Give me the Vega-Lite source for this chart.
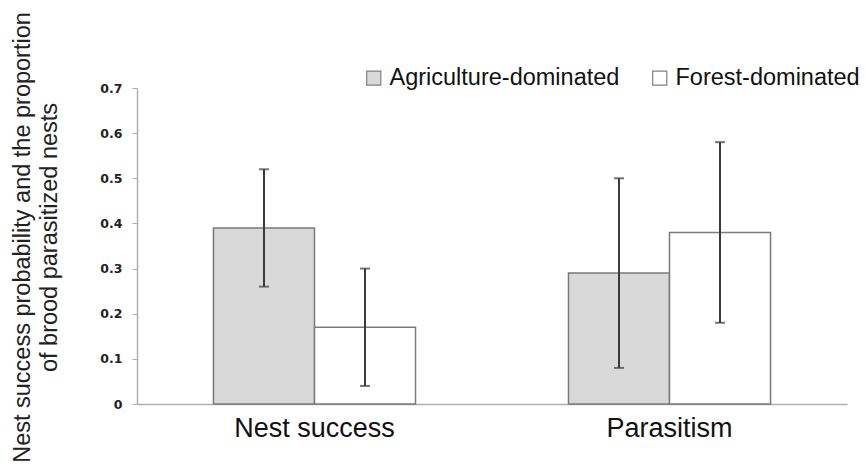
{
  "$schema": "https://vega.github.io/schema/vega-lite/v6.json",
  "autosize": {"type": "none"},
  "padding": {"left": 137, "top": 88, "right": 18, "bottom": 65},
  "width": 710,
  "height": 316,
  "background": "white",
  "config": {"view": {"stroke": null}, "font": "Liberation Sans"},
  "data": {"values": [
    {"measure": "Nest success", "landscape": "Agriculture-dominated", "value": 0.39, "lo": 0.26, "hi": 0.52},
    {"measure": "Nest success", "landscape": "Forest-dominated", "value": 0.17, "lo": 0.04, "hi": 0.30},
    {"measure": "Parasitism", "landscape": "Agriculture-dominated", "value": 0.29, "lo": 0.08, "hi": 0.50},
    {"measure": "Parasitism", "landscape": "Forest-dominated", "value": 0.38, "lo": 0.18, "hi": 0.58}
  ]},
  "encoding": {
    "x": {"field": "measure", "type": "nominal", "sort": null,
      "scale": {"paddingInner": 0, "paddingOuter": 0},
      "axis": {"title": null, "labelAngle": 0, "labelFontSize": 27, "labelColor": "#111", "labelPadding": 11,
        "ticks": false, "domainColor": "#b0b0b0", "domainWidth": 1.5}},
    "xOffset": {"field": "landscape", "type": "nominal", "scale": {"paddingInner": 0, "paddingOuter": 0.757}}
  },
  "layer": [
    {
      "mark": {"type": "bar", "stroke": "#7a7a7a", "strokeWidth": 1.5},
      "encoding": {
        "y": {"field": "value", "type": "quantitative",
          "scale": {"domain": [0, 0.7], "nice": false},
          "axis": {"title": ["Nest success probability and the proportion", "of brood parasitized nests"],
            "titleFontSize": 23.5, "titleFontWeight": "normal", "titleColor": "#222", "titlePadding": 38, "titleLineHeight": 27, "titleY": 149,
            "values": [0, 0.1, 0.2, 0.3, 0.4, 0.5, 0.6, 0.7], "labelExpr": "datum.value == 0 ? '0' : format(datum.value, '.1f')",
            "labelFont": "DejaVu Sans", "labelFontWeight": "bold", "labelFontSize": 12.5, "labelColor": "#222", "labelPadding": 10,
            "grid": false, "tickColor": "#b0b0b0", "tickSize": 5, "domainColor": "#b0b0b0", "domainWidth": 1.5}},
        "color": {"field": "landscape", "type": "nominal",
          "scale": {"domain": ["Agriculture-dominated", "Forest-dominated"], "range": ["#d9d9d9", "#ffffff"]},
          "legend": {"title": null, "orient": "none", "direction": "horizontal", "legendX": 225, "legendY": -22,
            "symbolType": "square", "symbolSize": 200, "symbolStrokeColor": "#808080", "symbolStrokeWidth": 1.2, "symbolOpacity": 1,
            "labelFontSize": 23.5, "labelColor": "#111", "labelOffset": 4, "columnPadding": 28, "labelLimit": 400}}
      }
    },
    {
      "mark": {"type": "rule", "color": "#3a3a3a", "strokeWidth": 2},
      "encoding": {
        "y": {"field": "lo", "type": "quantitative"},
        "y2": {"field": "hi"}
      }
    },
    {
      "mark": {"type": "tick", "color": "#3a3a3a", "thickness": 2, "size": 10},
      "encoding": {"y": {"field": "lo", "type": "quantitative"}}
    },
    {
      "mark": {"type": "tick", "color": "#3a3a3a", "thickness": 2, "size": 10},
      "encoding": {"y": {"field": "hi", "type": "quantitative"}}
    }
  ]
}
